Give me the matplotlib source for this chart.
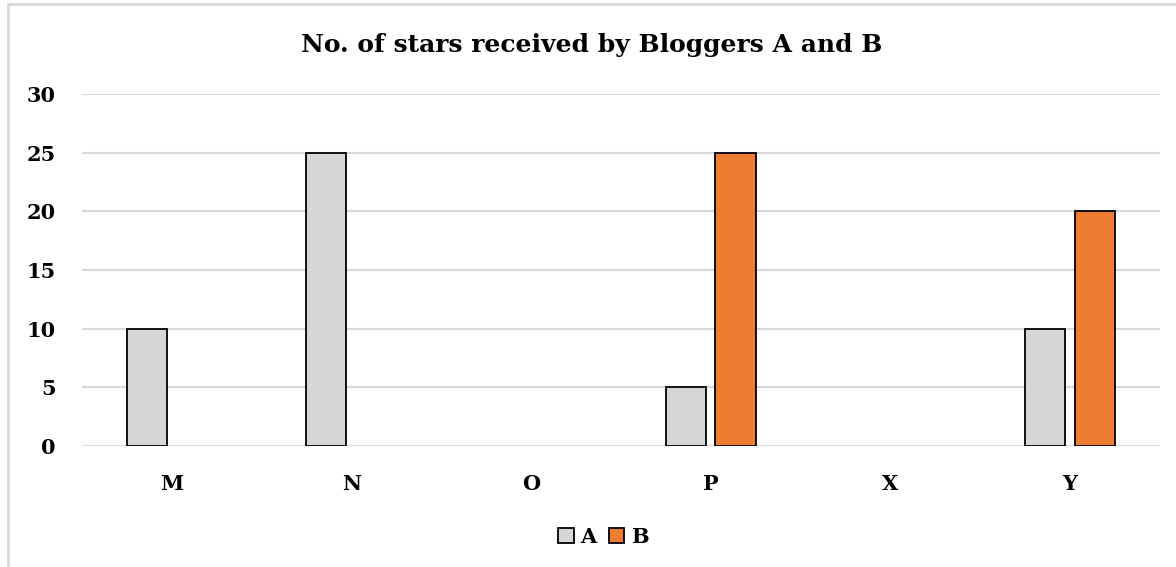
import numpy as np
import matplotlib.pyplot as plt
from matplotlib.patches import Rectangle, Patch

# data
categories = ['M', 'N', 'O', 'P', 'X', 'Y']
stars_a = [10, 25, 0, 5, 0, 10]
stars_b = [0, 0, 0, 25, 0, 20]

color_a = '#d6d6d6'
color_b = '#ed7d31'

plt.rcParams['font.family'] = ['DejaVu Serif']
plt.rcParams['font.weight'] = 'bold'

fig = plt.figure(figsize=(11.76, 5.67), dpi=100)
ax = fig.add_axes([0.0697, 0.2134, 0.9163, 0.6208])

# outer chart frame
fig.patches.append(Rectangle((8 / 1176, -0.01), 1.2, 1 - 4 / 567 + 0.01, transform=fig.transFigure,
                             fill=False, edgecolor='#d9d9d9', linewidth=2))

x = np.arange(len(categories))
w = 0.223
off = 0.139
bars_a = ax.bar(x - off, stars_a, w, color=color_a, edgecolor='black', linewidth=1.3)
bars_b = ax.bar(x + off, stars_b, w, color=color_b, edgecolor='black', linewidth=1.3)
# empty bars are not drawn in the original
for b in list(bars_a) + list(bars_b):
    if b.get_height() == 0:
        b.set_visible(False)

ax.set_xlim(-0.5, len(categories) - 0.5)
ax.set_ylim(0, 30)
ax.set_yticks(range(0, 31, 5))
ax.set_xticks(x)
ax.set_xticklabels(categories)
ax.yaxis.grid(True, color='#d9d9d9', linewidth=1.5)
ax.set_axisbelow(True)
for s in ax.spines.values():
    s.set_visible(False)
ax.tick_params(length=0, labelsize=15)
ax.tick_params(axis='x', pad=20)
ax.tick_params(axis='y', pad=19)

fig.text(0.503, 1 - 45 / 567, 'No. of stars received by Bloggers A and B', ha='center', va='center',
         fontsize=18, fontweight='bold')
handles = [Patch(facecolor=color_a, edgecolor='black', linewidth=1.3, label='A'),
           Patch(facecolor=color_b, edgecolor='black', linewidth=1.3, label='B')]
fig.legend(handles=handles, loc='center', bbox_to_anchor=(0.513, 1 - 537 / 567), ncol=2, frameon=False,
           fontsize=15, handlelength=0.75, handleheight=0.75, handletextpad=0.3, columnspacing=0.6)

fig.savefig('out.png', dpi=100)
